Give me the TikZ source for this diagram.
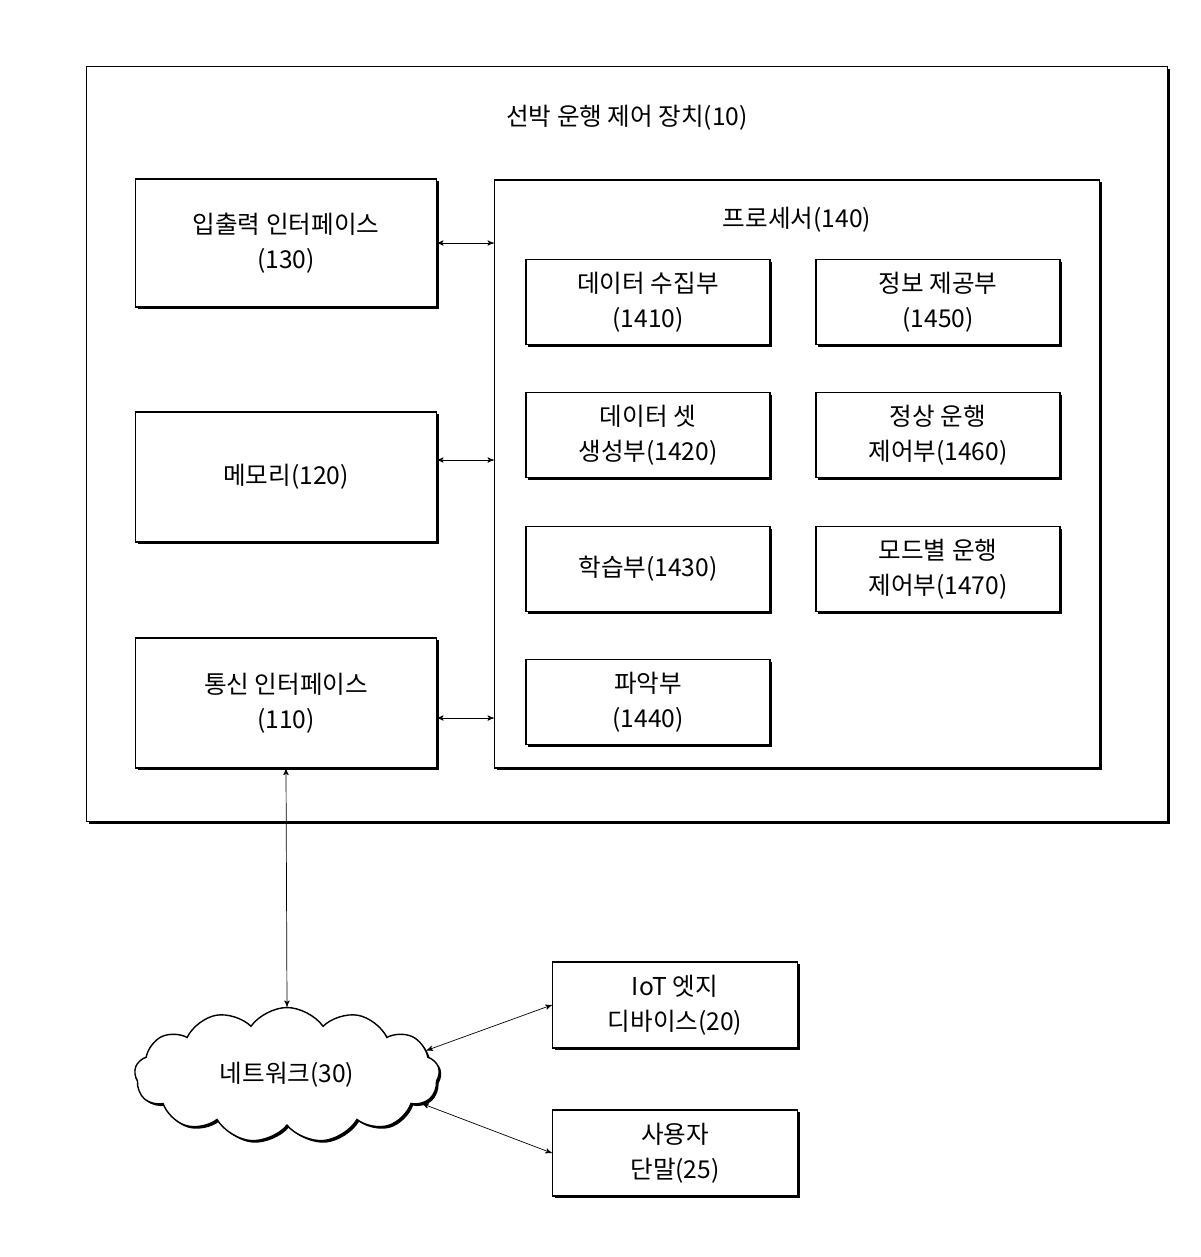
\documentclass[tikz,border=0pt]{standalone}
\usepackage{fontspec}
\setmainfont{Noto Sans CJK KR}
\usetikzlibrary{positioning, arrows, shadows, shapes.symbols}
\tikzset{
  >=stealth',
  blk/.style={draw, thick, fill=white, align=center, inner sep=0pt,
    drop shadow={shadow xshift=1.2pt, shadow yshift=-1.2pt, opacity=1, fill=black}},
  conn/.style={<->, thin},
}
\begin{document}
\begin{tikzpicture}[x=0.02cm, y=-0.02cm, font=\fontsize{14}{20}\selectfont]
    \useasboundingbox (0,0) rectangle (1200,1257);

    % device
    \node[blk, minimum width=21.62cm, minimum height=15.1cm] (dev) at (627,444) {};
    \node (devt) at (627,118) {선박 운행 제어 장치(10)};

    % left column
    \node[blk, minimum width=6.02cm, minimum height=2.56cm] (io) at (286,243) {입출력 인터페이스\\(130)};
    \node[blk, minimum width=6.02cm, minimum height=2.6cm] (mem) at (286,477) {메모리(120)};
    \node[blk, minimum width=6.02cm, minimum height=2.6cm] (com) at (286,703) {통신 인터페이스\\(110)};

    % processor
    \node[blk, minimum width=12.1cm, minimum height=11.76cm] (proc) at (797,474) {};
    \node (proct) at (797,220) {프로세서(140)};
    \node[blk, minimum width=4.88cm, minimum height=1.7cm] (p1) at (648,302) {데이터 수집부\\(1410)};
    \node[blk, minimum width=4.88cm, minimum height=1.7cm] (p2) at (648,435) {데이터 셋\\생성부(1420)};
    \node[blk, minimum width=4.88cm, minimum height=1.7cm] (p3) at (648,569) {학습부(1430)};
    \node[blk, minimum width=4.88cm, minimum height=1.7cm] (p4) at (648,702) {파악부\\(1440)};
    \node[blk, minimum width=4.88cm, minimum height=1.7cm] (p5) at (938,302) {정보 제공부\\(1450)};
    \node[blk, minimum width=4.88cm, minimum height=1.7cm] (p6) at (938,435) {정상 운행\\제어부(1460)};
    \node[blk, minimum width=4.88cm, minimum height=1.7cm] (p7) at (938,569) {모드별 운행\\제어부(1470)};

    % outside
    \node[cloud, cloud puffs=13, cloud puff arc=110, draw, thick, fill=white, aspect=2.2,
      minimum width=6.1cm, minimum height=2.7cm,
      drop shadow={shadow xshift=1.2pt, shadow yshift=-1.2pt, opacity=1, fill=black}] (net) at (287,1075) {네트워크(30)};
    \node[blk, minimum width=4.9cm, minimum height=1.72cm] (iot) at (675,1005) {IoT 엣지\\디바이스(20)};
    \node[blk, minimum width=4.9cm, minimum height=1.72cm] (usr) at (675,1153) {사용자\\단말(25)};

    % connections
    \draw[conn] (io.east) -- (io.east -| proc.west);
    \draw[conn] (mem.east) ++(0,-17) coordinate (m1) -- (m1 -| proc.west);
    \draw[conn] (com.east) ++(0,15) coordinate (c1) -- (c1 -| proc.west);
    \draw[conn] (com.south) -- (net.north);
    \draw[conn] (net.10) -- (iot.west);
    \draw[conn] (net.-12) -- (usr.west);
\end{tikzpicture}
\end{document}
